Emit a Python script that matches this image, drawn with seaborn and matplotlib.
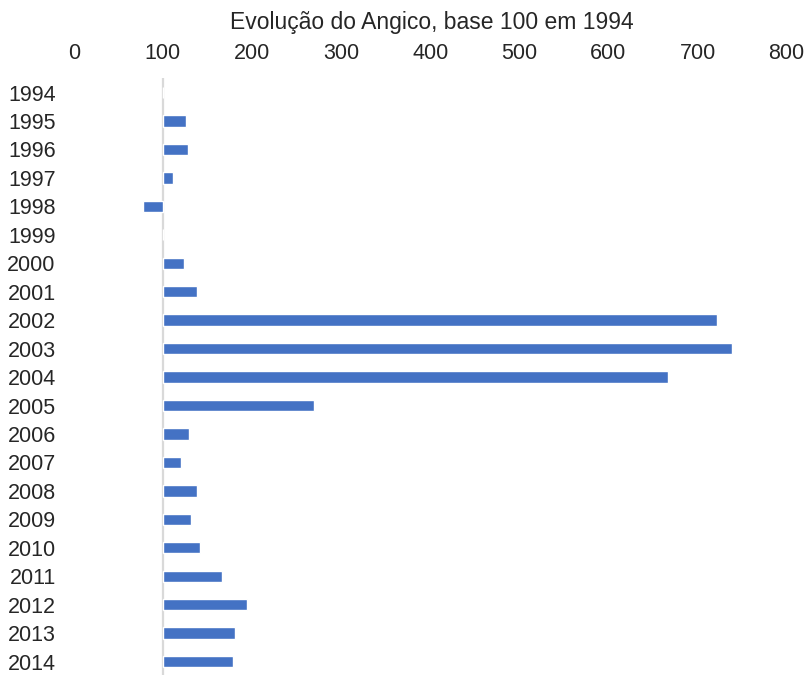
import matplotlib
matplotlib.use("Agg")
import matplotlib.pyplot as plt
from matplotlib.ticker import FuncFormatter
import pandas as pd
import seaborn as sns

# Evolution index, base 100 = 1994
years = [str(y) for y in range(1994, 2015)]
index_values = [100, 125.5, 128, 111, 77.5, 100, 124, 138, 722, 739, 667,
                269, 129, 120, 138, 131, 142, 166, 194, 181, 179]
base = 100
x_ticks = [0, 100, 200, 300, 400, 500, 600, 700, 800]

df = pd.DataFrame({"Ano": years, "Indice": index_values})
df["Delta"] = df["Indice"] - base

sns.set_theme(style="white")
plt.rcParams["font.family"] = ["Liberation Sans", "DejaVu Sans"]

fig = plt.figure(figsize=(8.11, 6.75), dpi=100)
ax = fig.add_axes([0.091, 0.0, 0.879, 0.884])

# bars drawn as deviation from the base, axis labels shifted back by +100
sns.barplot(data=df, x="Delta", y="Ano", orient="h", color="#4472C4",
            saturation=1, width=0.4, ax=ax)

ax.axvline(0, color="#D9D9D9", linewidth=1.6, zorder=0)

ax.set_xlim(x_ticks[0] - base, x_ticks[-1] - base)
ax.set_xticks([t - base for t in x_ticks])
ax.xaxis.set_major_formatter(FuncFormatter(lambda v, p: f"{v + base:.0f}"))
ax.xaxis.tick_top()
ax.set_ylim(20.47, -0.5)

ax.tick_params(axis="x", length=0, pad=10, labelsize=15.5, colors="#262626")
ax.tick_params(axis="y", length=0, pad=13, labelsize=15.5, colors="#262626")
ax.set_xlabel("")
ax.set_ylabel("")
for s in ax.spines.values():
    s.set_visible(False)

fig.text(0.533, 1 - 22 / 675, "Evolução do Angico, base 100 em 1994",
         ha="center", va="center", fontsize=16.5, color="#262626")

fig.savefig("out.png", dpi=100)
